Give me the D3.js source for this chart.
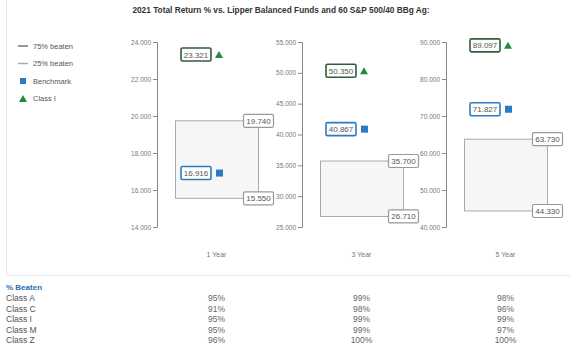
<!DOCTYPE html>
<html>
<head>
<meta charset="utf-8">
<script src="https://cdn.jsdelivr.net/npm/d3@7"></script>
<style>
  body { margin: 0; background: #fff; }
  svg { font-family: "Liberation Sans", Arial, sans-serif; }
</style>
</head>
<body>
<div id="chart"></div>
<script>
// periods and their returns
const periods = ["1 Year", "3 Year", "5 Year"];
const classI = [23.321, 50.350, 89.097];
const benchmark = [16.916, 40.867, 71.827];
const beaten75 = [19.740, 35.700, 63.730];
const beaten25 = [15.550, 26.710, 44.330];
const axisDomains = [[14, 24], [25, 55], [40, 90]];
const axisTicks = [
  [14, 16, 18, 20, 22, 24],
  [25, 30, 35, 40, 45, 50, 55],
  [40, 50, 60, 70, 80, 90]
];

// % beaten table
const shareClasses = ["Class A", "Class C", "Class I", "Class M", "Class Z"];
const pct1Y = ["95%", "91%", "95%", "95%", "96%"];
const pct3Y = ["99%", "98%", "99%", "99%", "100%"];
const pct5Y = ["98%", "96%", "99%", "97%", "100%"];

const legendItems = ["75% beaten", "25% beaten", "Benchmark", "Class I"];

const W = 570, H = 349;
const green = "#1e8b3e", greenDark = "#2f5e3b", blue = "#2b7bc4";
const fmt = d3.format(".3f");

const svg = d3.select("#chart").append("svg")
  .attr("width", W).attr("height", H);

// panel frame
svg.append("path")
  .attr("d", "M6.5,0 V275.5 H570")
  .attr("fill", "none").attr("stroke", "#e6e6e6");

svg.append("text")
  .attr("x", 281).attr("y", 13)
  .attr("text-anchor", "middle")
  .attr("font-size", 8.3).attr("font-weight", "bold").attr("fill", "#333")
  .text("2021 Total Return % vs. Lipper Balanced Funds and 60 S&P 500/40 BBg Ag:");

// legend
const lg = svg.append("g").attr("font-size", 7.5).attr("fill", "#555");
legendItems.forEach((t, i) => {
  const y = 46 + i * 17.5;
  if (i === 0 || i === 1) {
    lg.append("line").attr("x1", 18).attr("x2", 28).attr("y1", y).attr("y2", y)
      .attr("stroke", i === 0 ? "#777" : "#aaa").attr("stroke-width", 1.5);
  } else if (i === 2) {
    lg.append("rect").attr("x", 20).attr("y", y - 3).attr("width", 6).attr("height", 6).attr("fill", blue);
  } else {
    lg.append("path").attr("d", `M19,${y + 3.5} L23,${y - 3.5} L27,${y + 3.5} Z`).attr("fill", green);
  }
  lg.append("text").attr("x", 33).attr("y", y + 2.7).text(t);
});

const axisX = [157, 302, 446];
const plotTop = 42, plotBottom = 227;

function valueLabel(g, cx, cy, v, stroke, sw) {
  const w = 30, h = 13;
  g.append("rect").attr("x", cx - w / 2).attr("y", cy - h / 2)
    .attr("width", w).attr("height", h).attr("rx", 1.5)
    .attr("fill", "#fff").attr("stroke", stroke).attr("stroke-width", sw);
  g.append("text").attr("x", cx).attr("y", cy + 3)
    .attr("text-anchor", "middle").attr("font-size", 8).attr("fill", "#555")
    .text(fmt(v));
}

periods.forEach((p, i) => {
  const ax = axisX[i];
  const y = d3.scaleLinear().domain(axisDomains[i]).range([plotBottom, plotTop]);
  const g = svg.append("g");

  const axis = g.append("g")
    .attr("transform", `translate(${ax},0)`)
    .call(d3.axisLeft(y).tickValues(axisTicks[i]).tickFormat(fmt).tickSize(4).tickPadding(2));
  axis.select(".domain").attr("stroke", "#888").attr("d", `M-4,${plotTop + 0.5}H0.5V${plotBottom + 0.5}H-4`);
  axis.selectAll(".tick line").attr("stroke", "#888");
  axis.selectAll(".tick text").attr("fill", "#777").attr("font-size", 6.5)
    .attr("font-family", "Liberation Sans, Arial, sans-serif");

  const x0 = ax + 18, x1 = ax + 101;
  const yHi = y(beaten75[i]), yLo = y(beaten25[i]);
  g.append("rect")
    .attr("x", x0 + 0.5).attr("y", yHi).attr("width", x1 - x0).attr("height", yLo - yHi)
    .attr("fill", "#f6f6f6").attr("stroke", "#aaa").attr("stroke-width", 1);

  valueLabel(g, x1 + 0.5, yHi, beaten75[i], "#999", 1.2);
  valueLabel(g, x1 + 0.5, yLo, beaten25[i], "#999", 1.2);

  const lx = ax + 39;
  valueLabel(g, lx, y(classI[i]), classI[i], greenDark, 1.6);
  const cy = y(classI[i]);
  g.append("path").attr("d", `M${lx + 19},${cy + 3.5} L${lx + 23},${cy - 3.5} L${lx + 27},${cy + 3.5} Z`)
    .attr("fill", green);

  valueLabel(g, lx, y(benchmark[i]), benchmark[i], blue, 1.6);
  g.append("rect").attr("x", lx + 20).attr("y", y(benchmark[i]) - 3.5)
    .attr("width", 7).attr("height", 7).attr("fill", blue);

  g.append("text").attr("x", (x0 + x1) / 2).attr("y", 257)
    .attr("text-anchor", "middle").attr("font-size", 7).attr("fill", "#777")
    .text(p);
});

// % beaten table
svg.append("text").attr("x", 6).attr("y", 290)
  .attr("font-size", 8).attr("font-weight", "bold").attr("fill", "#2b6fb0")
  .text("% Beaten");

const cols = [pct1Y, pct3Y, pct5Y];
const tableX = [216.5, 361.5, 505.5];
shareClasses.forEach((c, r) => {
  const ty = 301 + r * 10.5;
  svg.append("text").attr("x", 6).attr("y", ty)
    .attr("font-size", 8.5).attr("fill", "#555").text(c);
  cols.forEach((col, k) => {
    svg.append("text").attr("x", tableX[k]).attr("y", ty)
      .attr("text-anchor", "middle").attr("font-size", 8.5).attr("fill", "#666")
      .text(col[r]);
  });
});
</script>
</body>
</html>
